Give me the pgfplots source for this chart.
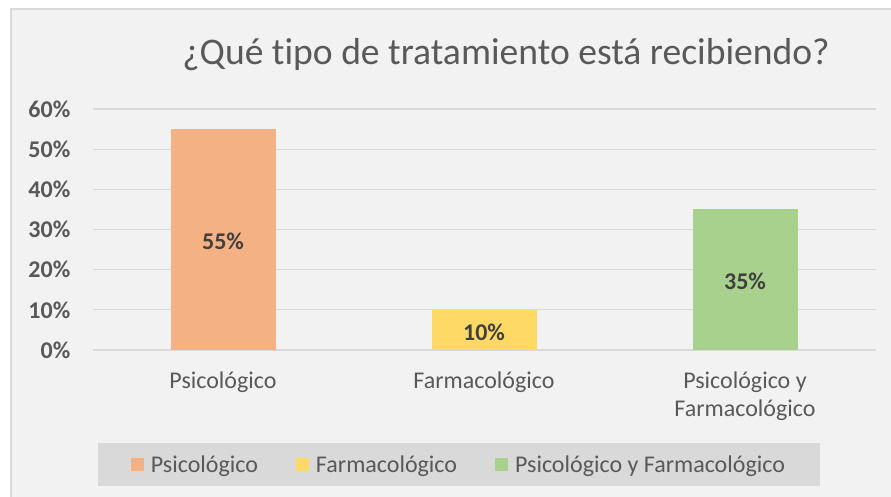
\documentclass[border=0pt]{standalone}
\usepackage{pgfplots}
\pgfplotsset{compat=1.18}
\usepackage{fontspec}
\setmainfont{Carlito}[Ligatures=NoCommon]
\definecolor{bgc}{HTML}{F2F2F2}
\definecolor{gridc}{HTML}{D9D9D9}
\definecolor{txt}{HTML}{595959}
\definecolor{lbl}{HTML}{404040}
\definecolor{cOrange}{HTML}{F4B183}
\definecolor{cYellow}{HTML}{FFD966}
\definecolor{cGreen}{HTML}{A9D18E}
\begin{document}
\begin{tikzpicture}[x=1pt,y=1pt]
\useasboundingbox (0,0) rectangle (891,-496);
\clip (0,0) rectangle (891,-496);
\fill[white] (0,0) rectangle (891,-496);
\filldraw[fill=bgc, draw=gridc, line width=1.2pt] (11,-9) rectangle (905,-510);
\node[anchor=base, text=txt, font=\fontsize{37.6}{44}\selectfont] at (506,-64) {¿Qué tipo de tratamiento está recibiendo?};
\begin{axis}[
  at={(92.5pt,-350pt)}, anchor=south west,
  scale only axis, width=783pt, height=241pt,
  xmin=-0.5, xmax=2.5, ymin=0, ymax=60,
  xtick={0,1,2},
  xticklabels={Psicológico, Farmacológico, {Psicológico y\\Farmacológico}},
  ytick={0,10,20,30,40,50,60},
  yticklabel={\pgfmathprintnumber{\tick}\%},
  /pgf/number format/assume math mode=true,
  axis line style={draw=none},
  major tick length=0pt,
  ymajorgrids, major grid style={gridc, line width=1.2pt},
  yticklabel style={font=\bfseries\fontsize{24}{29}\selectfont, text=txt, anchor=east, inner sep=0pt, xshift=-22pt},
  xticklabel style={font=\fontsize{24}{28}\selectfont, text=txt, align=center, anchor=north, inner sep=0pt, yshift=-22pt},
  ybar, bar width=105pt, bar shift=0pt,
  every axis plot/.append style={draw=none},
  nodes near coords={\pgfmathprintnumber{\pgfplotspointmeta}\%},
  visualization depends on=y \as \rawy,
  every node near coord/.append style={font=\bfseries\fontsize{24}{29}\selectfont, text=lbl, anchor=center, shift={(axis direction cs:0,-0.5*\rawy)}, yshift=-2pt},
  legend columns=-1,
  legend style={at={(0.468,-0.475)}, anchor=center, fill=gridc, draw=none,
    font=\fontsize{24}{29}\selectfont, text=txt, inner xsep=32.5pt, inner ysep=10.5pt,
    /tikz/every even column/.append style={column sep=36pt},
    /tikz/every odd column/.append style={column sep=5pt},
    nodes={inner sep=2pt}},
  legend image code/.code={\fill[#1] (0pt,-6.5pt) rectangle (13pt,6.5pt);},
]
\addplot[fill=cOrange] coordinates {(0,55)};
\addplot[fill=cYellow] coordinates {(1,10)};
\addplot[fill=cGreen] coordinates {(2,35)};
\legend{Psicológico, Farmacológico, Psicológico y Farmacológico}
\end{axis}
\end{tikzpicture}
\end{document}
